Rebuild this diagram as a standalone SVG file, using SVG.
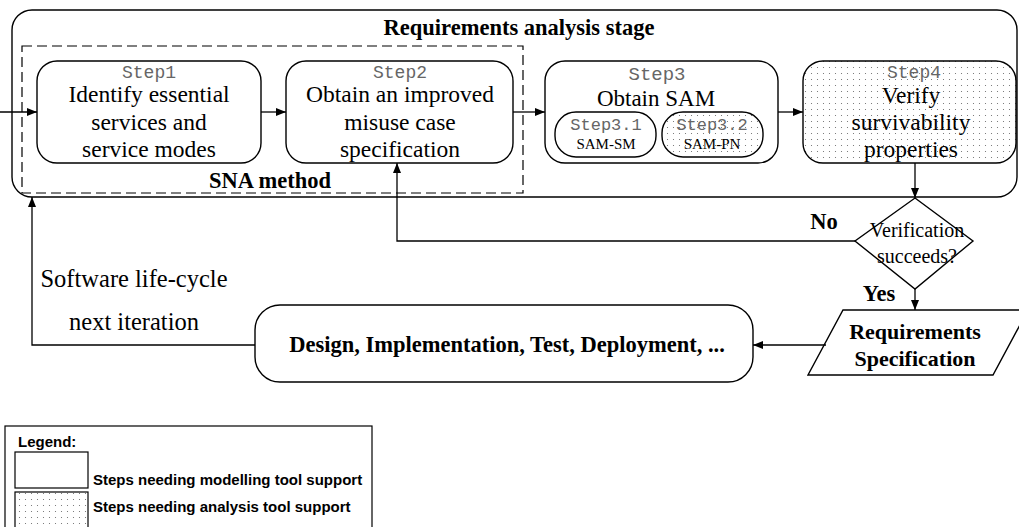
<svg xmlns="http://www.w3.org/2000/svg" width="1019" height="527" viewBox="0 0 1019 527">
<defs>
<pattern id="dots" width="6" height="6" patternUnits="userSpaceOnUse">
<rect width="6" height="6" fill="#fff"/>
<circle cx="1.5" cy="1.5" r="0.55" fill="#666"/>
</pattern>
<marker id="arr" viewBox="0 0 10 8" refX="10" refY="4" markerWidth="10" markerHeight="8" markerUnits="userSpaceOnUse" orient="auto">
<path d="M0,0 L10,4 L0,8 z" fill="#000"/>
</marker>
</defs>
<style>
.box{fill:#fff;stroke:#000;stroke-width:1.4}
.dot{fill:url(#dots);stroke:#000;stroke-width:1.4}
.ser{font-family:"Liberation Serif","Times New Roman",serif;fill:#000;text-anchor:middle}
.b{font-weight:bold}
.mono{font-family:"Liberation Mono","Courier New",monospace;fill:#666;text-anchor:middle}
.sans{font-family:"Liberation Sans",Arial,sans-serif;font-weight:bold;font-size:15px;fill:#000}
.con{fill:none;stroke:#000;stroke-width:1.3;marker-end:url(#arr)}
</style>
<rect width="1019" height="527" fill="#fff"/>

<g id="stage">
<rect class="box" x="12" y="10" width="1005" height="187" rx="20"/>
<text class="ser b" x="519" y="35" font-size="22.5">Requirements analysis stage</text>
</g>

<g id="sna">
<rect x="22" y="46" width="501" height="147" fill="none" stroke="#000" stroke-width="1.2" stroke-dasharray="10 5"/>
<text class="ser b" x="270" y="188" font-size="22.5">SNA method</text>
</g>

<g id="step1">
<rect class="box" x="37" y="61" width="224" height="102" rx="20"/>
<text class="mono" x="149" y="78" font-size="18">Step1</text>
<text class="ser" x="149" y="102" font-size="23.5">Identify essential</text>
<text class="ser" x="149" y="130" font-size="23.5">services and</text>
<text class="ser" x="149" y="157" font-size="23.5">service modes</text>
</g>

<g id="step2">
<rect class="box" x="286" y="61" width="227" height="102" rx="20"/>
<text class="mono" x="400" y="78" font-size="18">Step2</text>
<text class="ser" x="400" y="102" font-size="23.5">Obtain an improved</text>
<text class="ser" x="400" y="130" font-size="23.5">misuse case</text>
<text class="ser" x="400" y="157" font-size="23.5">specification</text>
</g>

<g id="step3">
<rect class="box" x="545" y="61" width="233" height="102" rx="20"/>
<text class="mono" x="657" y="80" font-size="19">Step3</text>
<text class="ser" x="656" y="106" font-size="23">Obtain SAM</text>
</g>

<g id="step31">
<rect class="box" x="555" y="112" width="101" height="45" rx="21"/>
<text class="mono" x="606" y="130" font-size="17">Step3.1</text>
<text class="ser" x="606" y="149" font-size="15">SAM-SM</text>
</g>

<g id="step32">
<rect class="dot" x="662" y="112" width="101" height="45" rx="21"/>
<text class="mono" x="712" y="130" font-size="17">Step3.2</text>
<text class="ser" x="712" y="149" font-size="15">SAM-PN</text>
</g>

<g id="step4">
<rect class="dot" x="803" y="61" width="213" height="102" rx="20"/>
<text class="mono" x="914" y="78" font-size="18">Step4</text>
<text class="ser" x="911" y="103" font-size="23.5">Verify</text>
<text class="ser" x="911" y="130" font-size="23.5">survivability</text>
<text class="ser" x="911" y="157" font-size="23.5">properties</text>
</g>

<g id="decision">
<polygon class="box" points="915,198 973,241 915,289 855,241"/>
<text class="ser" x="917" y="237" font-size="20" fill="#222">Verification</text>
<text class="ser" x="917" y="263" font-size="20" fill="#222">succeeds?</text>
</g>

<g id="spec">
<polygon class="box" points="843,310 1028,310 993,375 808,375"/>
<text class="ser b" x="915" y="339" font-size="22">Requirements</text>
<text class="ser b" x="915" y="366" font-size="22">Specification</text>
</g>

<g id="design">
<rect class="box" x="255" y="305" width="498" height="77" rx="25"/>
<text class="ser b" x="507" y="352" font-size="22.5">Design, Implementation, Test, Deployment, ...</text>
</g>

<g id="connectors">
<line class="con" x1="0" y1="112" x2="37" y2="112"/>
<line class="con" x1="261" y1="112" x2="286" y2="112"/>
<line class="con" x1="513" y1="112" x2="545" y2="112"/>
<line class="con" x1="778" y1="112" x2="803" y2="112"/>
<line class="con" x1="915" y1="163" x2="915" y2="198"/>
<polyline class="con" points="855,241 397,241 397,163"/>
<line class="con" x1="915" y1="289" x2="915" y2="310"/>
<line class="con" x1="826" y1="345" x2="753" y2="345"/>
<polyline class="con" points="255,345 32,345 32,197"/>
<text class="ser b" x="824" y="229" font-size="22.5">No</text>
<text class="ser b" x="879" y="301" font-size="22.5">Yes</text>
<text class="ser" x="134" y="287" font-size="24.5">Software life-cycle</text>
<text class="ser" x="134" y="330" font-size="24.5">next iteration</text>
</g>

<g id="legend">
<rect x="5" y="426" width="367" height="115" fill="#fff" stroke="#000" stroke-width="1.2"/>
<text class="sans" x="18" y="447">Legend:</text>
<rect x="15" y="452" width="73" height="36" fill="#fff" stroke="#000" stroke-width="1.2"/>
<rect x="15" y="492" width="73" height="45" fill="url(#dots)" stroke="#000" stroke-width="1.2"/>
<text class="sans" x="93" y="485">Steps needing modelling tool support</text>
<text class="sans" x="93" y="512">Steps needing analysis tool support</text>
</g>
</svg>
